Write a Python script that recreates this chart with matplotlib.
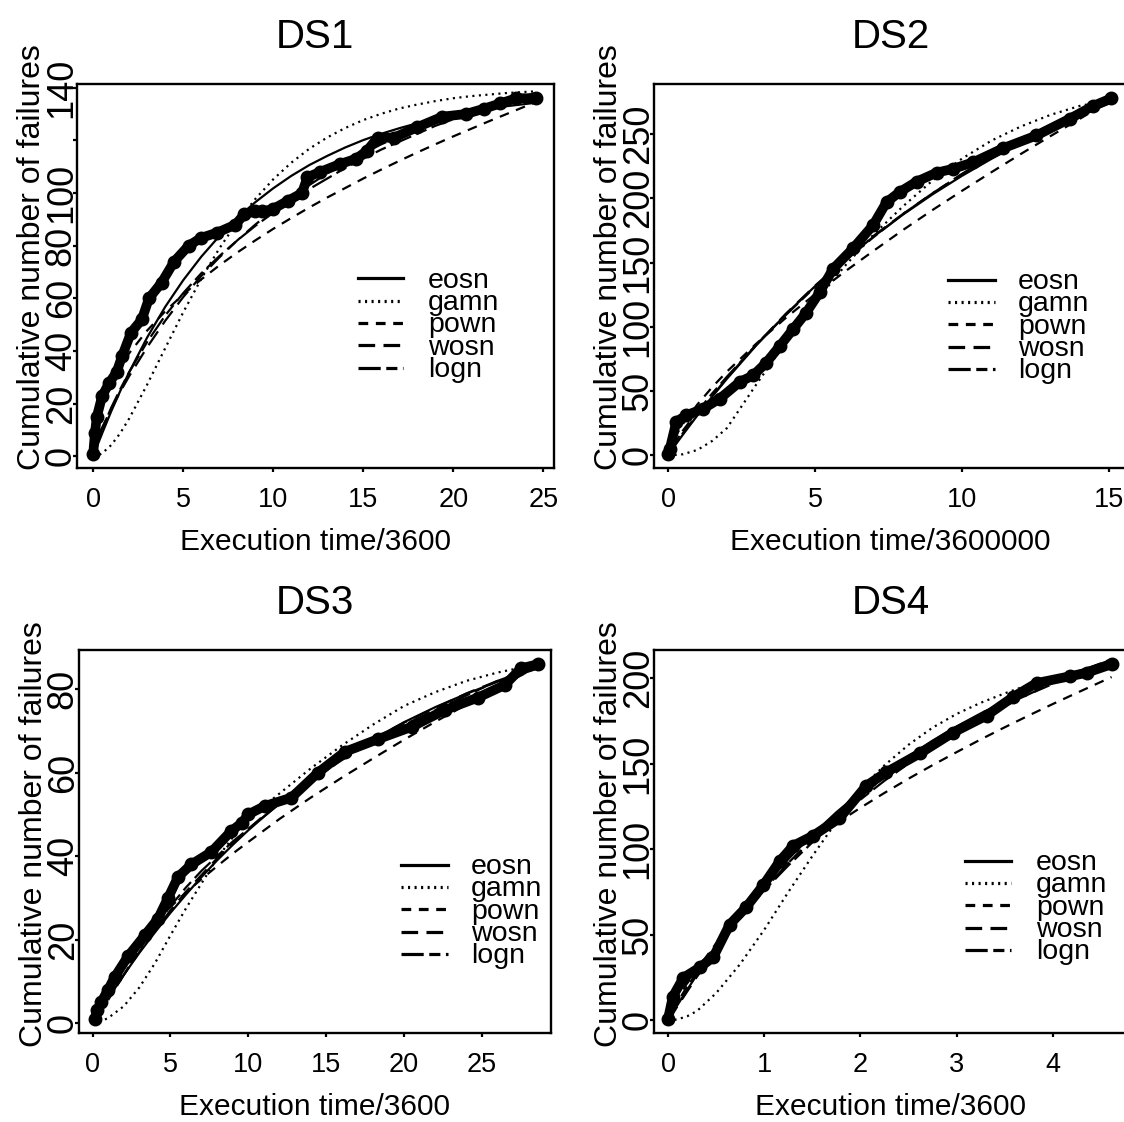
import matplotlib
matplotlib.use('Agg')
import matplotlib.pyplot as plt
from matplotlib.transforms import offset_copy

plt.rcParams['font.family'] = ['Liberation Sans', 'DejaVu Sans']
plt.rcParams['lines.scale_dashes'] = False

# ---------------- DS1 ----------------
ds1_t = [0.0, 0.1, 0.2, 0.5, 0.9, 1.3, 1.6, 2.1, 2.7, 3.1, 3.8, 4.5, 5.3, 6.0, 6.9, 7.9, 8.4, 9.0,
         9.4, 10.0, 10.8, 11.6, 11.9, 12.6, 13.7, 14.6, 15.2, 15.8, 16.7, 18.0, 19.4, 20.7, 21.7,
         22.6, 23.5, 24.6]
ds1_n = [1, 9, 15, 23, 28, 32, 38, 47, 52, 60, 66, 74, 80, 83, 85, 88, 92, 93,
         93, 94, 97, 100, 106, 108, 111, 113, 116, 121, 121, 125, 129, 130, 132,
         134, 136, 136]
ds1_grid = [0, 0.25, 0.5, 1, 1.5, 2, 3, 4, 5, 6, 7, 8, 9, 10, 11, 12, 13, 14, 15, 16, 17, 18,
            19, 20, 21, 22, 23, 24, 24.6]
ds1_eosn = [0, 4.5, 8.8, 17.1, 24.8, 32.0, 45.2, 56.8, 66.9, 75.8, 83.6, 90.5, 96.5, 101.8,
            106.5, 110.6, 114.1, 117.3, 120.1, 122.5, 124.6, 126.5, 128.1, 129.6, 130.9, 132.0,
            133.0, 133.8, 134.3]
ds1_gamn = [0, 0.3, 1.2, 4.3, 8.8, 14.4, 27.3, 41.1, 54.7, 67.4, 78.9, 89.0, 97.7, 105.2, 111.5,
            116.8, 121.1, 124.7, 127.7, 130.1, 132.1, 133.6, 134.9, 136.0, 136.8, 137.4, 138.0,
            138.4, 138.6]
ds1_pown = [0, 14.1, 19.8, 27.9, 34.0, 39.2, 47.8, 55.1, 61.5, 67.2, 72.5, 77.4, 82.0, 86.4, 90.5,
            94.5, 98.3, 101.9, 105.5, 108.9, 112.2, 115.4, 118.5, 121.5, 124.4, 127.3, 130.1,
            132.9, 134.5]
ds1_wosn = [0, 7, 11, 18, 24.5, 30.5, 41.5, 51.5, 60.5, 68.5, 75.5, 82, 88, 93.5, 98.5, 103,
            107.5, 111.5, 115, 118.5, 121.5, 124.5, 127, 129.5, 131.5, 133.5, 135, 136.5, 137]
ds1_logn = [0, 6, 10.5, 18.5, 25.5, 32, 43.5, 53.5, 62, 69.5, 76, 82, 87.5, 92.5, 97, 101.5,
            105.5, 109.5, 113, 116.5, 119.5, 122.5, 125.5, 128, 130.5, 133, 135, 137, 138]

# ---------------- DS2 ----------------
ds2_t = [0.0, 0.06, 0.28, 0.62, 1.19, 1.76, 2.44, 2.89, 3.34, 3.8, 4.25, 4.7, 5.16, 5.61, 6.29,
         6.97, 7.43, 7.88, 8.45, 9.13, 9.69, 10.37, 11.39, 12.53, 13.66, 14.46, 15.08]
ds2_n = [1, 5, 26, 31, 36, 44, 57, 62, 72, 85, 98, 111, 127, 145, 161,
         179, 197, 205, 213, 220, 223, 228, 239, 249, 262, 272, 278]
ds2_grid = [0, 0.25, 0.5, 1, 1.5, 2, 3, 4, 5, 6, 7, 8, 9, 10, 11, 12, 13, 14, 15.08]
ds2_eosn = [0, 8.0, 15.8, 31.0, 45.5, 59.4, 85.5, 109.5, 131.6, 151.8, 170.4, 187.5, 203.2,
            217.6, 230.8, 243.0, 254.1, 264.4, 274.6]
ds2_gamn = [0, 0.1, 0.6, 4, 11, 21, 55, 88, 119, 147, 172, 194, 214, 231, 245, 256, 265, 272, 277]
ds2_pown = [0, 14.6, 24.1, 39.5, 52.9, 65.0, 86.8, 106.8, 125.3, 142.7, 159.3, 175.5, 191.0,
            205.9, 220.4, 234.6, 248.4, 261.9, 276.6]
ds2_wosn = [0, 9, 17, 32, 46, 60, 86, 110, 132, 152, 171, 188, 204, 219, 233, 246, 257, 268, 278]
ds2_logn = [0, 10, 19, 34, 48, 61, 86, 109, 131, 151, 170, 188, 204, 219, 233, 245, 257, 267, 277]

# ---------------- DS3 ----------------
ds3_t = [0.14, 0.3, 0.56, 1.0, 1.42, 2.28, 3.35, 4.2, 4.85, 5.49, 6.34, 7.63, 8.9, 9.6, 10.0,
         11.05, 12.76, 14.47, 16.2, 18.3, 20.5, 22.6, 24.74, 26.46, 27.5, 28.6]
ds3_n = [1, 3, 5, 8, 11, 16, 21, 25, 30, 35, 38, 41, 46, 48, 50,
         52, 54, 60, 65, 68, 71, 75, 78, 81, 85, 86]
ds3_grid = [0, 0.25, 0.5, 1, 2, 3, 4, 5, 6, 7, 8, 9, 10, 12, 14, 16, 18, 20, 22, 24, 26, 28.6]
ds3_eosn = [0, 1.5, 3.0, 5.9, 11.5, 16.8, 21.7, 26.4, 30.8, 35.0, 39.0, 42.7, 46.2, 52.7, 58.4,
            63.5, 68.0, 72.1, 75.7, 78.9, 81.8, 85.0]
ds3_gamn = [0, 0.1, 0.3, 1.2, 4, 8.5, 14.3, 21, 27.5, 33.5, 39.5, 44.5, 49, 55, 61, 66.5, 71.5,
            76, 79.3, 82, 84, 86]
ds3_pown = [0, 3.2, 5.4, 9.0, 15.0, 20.0, 24.1, 27.8, 31.3, 34.5, 37.6, 40.6, 43.4, 48.9, 54.0,
            58.8, 63.4, 67.9, 72.2, 76.3, 80.4, 85.4]
ds3_wosn = [0, 1.5, 3, 6, 11.5, 17, 22, 27, 31.5, 35.5, 39.5, 43, 46.5, 53, 58.5, 63.5, 68, 72,
            75.5, 79, 82, 85.5]
ds3_logn = [0, 1, 2.5, 5.5, 11.5, 17.5, 23, 28, 32.5, 36.5, 40, 43.5, 46.5, 52.5, 58, 63, 67.5,
            71.5, 75, 78.5, 82, 85.5]

# ---------------- DS4 ----------------
ds4_t = [0.0, 0.05, 0.16, 0.33, 0.47, 0.64, 0.81, 0.99, 1.16, 1.3, 1.51, 1.78, 2.06, 2.27, 2.62,
         2.96, 3.31, 3.59, 3.83, 4.18, 4.35, 4.61]
ds4_n = [1, 14, 25, 31, 37, 56, 66, 79, 93, 102, 108, 118, 137, 145, 156,
         168, 178, 189, 197, 201, 203, 208]
ds4_grid = [0, 0.05, 0.1, 0.2, 0.3, 0.5, 0.75, 1, 1.25, 1.5, 1.75, 2, 2.25, 2.5, 2.75, 3, 3.25,
            3.5, 3.75, 4, 4.25, 4.61]
ds4_eosn = [0, 4.6, 9.2, 18.1, 26.6, 42.8, 61.5, 78.6, 94.2, 108.5, 121.6, 133.4, 144.3, 154.3,
            163.4, 171.7, 179.3, 186.2, 192.6, 198.4, 203.7, 210.5]
ds4_gamn = [0, 0.2, 0.7, 2.5, 5.5, 16, 33, 53, 75, 96, 116, 135, 149, 161, 171, 179, 185.5,
            191, 196, 200, 203.5, 207]
ds4_pown = [0, 8.0, 13.0, 22.0, 30.0, 45.0, 63.0, 78.0, 92.0, 105.3, 115.1, 124.2, 132.9, 141.2,
            149.1, 156.7, 164.1, 171.2, 178.1, 184.8, 191.3, 200.5]
ds4_wosn = [0, 4, 8.5, 17, 25.5, 41, 59.5, 76.5, 92, 106, 119, 131, 142, 152, 161, 169.5, 177,
            184, 190.5, 196.5, 202, 209]
ds4_logn = [0, 6, 11, 20, 28, 43, 60, 76, 90.5, 104, 117, 129, 140, 150, 159.5, 168, 176, 183.5,
            190.5, 197, 203, 211]

models = ['eosn', 'gamn', 'pown', 'wosn', 'logn']
style = {
    'eosn': dict(ls='-'),
    'gamn': dict(ls=(0, (1.5, 3.2))),
    'pown': dict(ls=(0, (7, 5.5))),
    'wosn': dict(ls=(0, (12, 6))),
    'logn': dict(ls=(0, (16, 4, 8, 4))),
}

panels = [
    dict(title='DS1', t=ds1_t, n=ds1_n, grid=ds1_grid,
         fits=[ds1_eosn, ds1_gamn, ds1_pown, ds1_wosn, ds1_logn],
         xlabel='Execution time/3600', xlim=(-0.9, 25.57), ylim=(-4.4, 141.4),
         xticks=[0, 5, 10, 15, 20, 25], yticks=[0, 20, 40, 60, 80, 100, 120, 140],
         ylabels=['0', '20', '40', '60', '80', '100', '', '140'],
         box=(77, 84, 553.5, 468), key=(0.590, 0.685, 0.737, 0.494), ymid=0.55),
    dict(title='DS2', t=ds2_t, n=ds2_n, grid=ds2_grid,
         fits=[ds2_eosn, ds2_gamn, ds2_pown, ds2_wosn, ds2_logn],
         xlabel='Execution time/3600000', xlim=(-0.48, 15.61), ylim=(-10.1, 289.1),
         xticks=[0, 5, 10, 15], yticks=[0, 50, 100, 150, 200, 250],
         ylabels=['0', '50', '100', '150', '200', '250'],
         box=(654, 84, 1127, 468), key=(0.622, 0.721, 0.770, 0.490), ymid=0.55),
    dict(title='DS3', t=ds3_t, n=ds3_n, grid=ds3_grid,
         fits=[ds3_eosn, ds3_gamn, ds3_pown, ds3_wosn, ds3_logn],
         xlabel='Execution time/3600', xlim=(-0.87, 29.43), ylim=(-2.4, 89.4),
         xticks=[0, 5, 10, 15, 20, 25], yticks=[0, 20, 40, 60, 80],
         ylabels=['0', '20', '40', '60', '80'],
         box=(79, 650, 551, 1033), key=(0.682, 0.782, 0.831, 0.439), ymid=0.52),
    dict(title='DS4', t=ds4_t, n=ds4_n, grid=ds4_grid,
         fits=[ds4_eosn, ds4_gamn, ds4_pown, ds4_wosn, ds4_logn],
         xlabel='Execution time/3600', xlim=(-0.146, 4.77), ylim=(-7.3, 216.3),
         xticks=[0, 1, 2, 3, 4], yticks=[0, 50, 100, 150, 200],
         ylabels=['0', '50', '100', '150', '200'],
         box=(654, 650, 1127, 1033), key=(0.658, 0.755, 0.808, 0.450), ymid=0.52),
]

W, H = 1124, 1122
fig = plt.figure(figsize=(W / 100, H / 100), dpi=100)

for p in panels:
    l, t, r, b = p['box']
    ax = fig.add_axes([l / W, 1 - b / H, (r - l) / W, (b - t) / H])
    hpx = b - t

    # observed data: heavy black dots
    ax.plot(p['t'], p['n'], color='black', lw=7, marker='o', ms=9,
            solid_capstyle='round', solid_joinstyle='round')
    # fitted mean value functions
    for name, vals in zip(models, p['fits']):
        ax.plot(p['grid'], vals, color='black', lw=1.6, **style[name])

    # key, drawn the R way
    x0, x1, xt, y0 = p['key']
    step = 22.3 / hpx
    for i, name in enumerate(models):
        y = y0 - i * step
        ax.plot([x0, x1], [y, y], transform=ax.transAxes, color='black', lw=2.3,
                clip_on=False, **style[name])
        ax.text(xt, y - 0.006, name, transform=ax.transAxes, fontsize=20.5,
                ha='left', va='center')

    ax.set_xlim(*p['xlim'])
    ax.set_ylim(*p['ylim'])
    ax.set_xticks(p['xticks'])
    ax.set_xticklabels([str(v) for v in p['xticks']], fontsize=19.5, va='baseline')
    ax.set_yticks(p['yticks'])
    ax.set_yticklabels(p['ylabels'], fontsize=26, rotation=90,
                       rotation_mode='anchor', ha='center', va='baseline')
    ax.tick_params(axis='x', length=3, width=1.6, pad=25, direction='out')
    ax.tick_params(axis='y', length=3, width=1.6, pad=1.5, direction='out')
    for s in ax.spines.values():
        s.set_linewidth(1.7)

    ax.set_title(p['title'], fontsize=29, pad=26)
    ax.set_xlabel(p['xlabel'], fontsize=21.5, va='baseline')
    ax.xaxis.set_label_coords(0.5, 0, transform=offset_copy(ax.transAxes, fig=fig, x=0, y=-82, units='dots'))
    ax.set_ylabel('Cumulative number of failures', fontsize=23, rotation=90,
                  rotation_mode='anchor', ha='center', va='baseline')
    ax.yaxis.set_label_coords(0, p['ymid'], transform=offset_copy(ax.transAxes, fig=fig, x=-37, y=0, units='dots'))

fig.savefig('out.png', dpi=100)
